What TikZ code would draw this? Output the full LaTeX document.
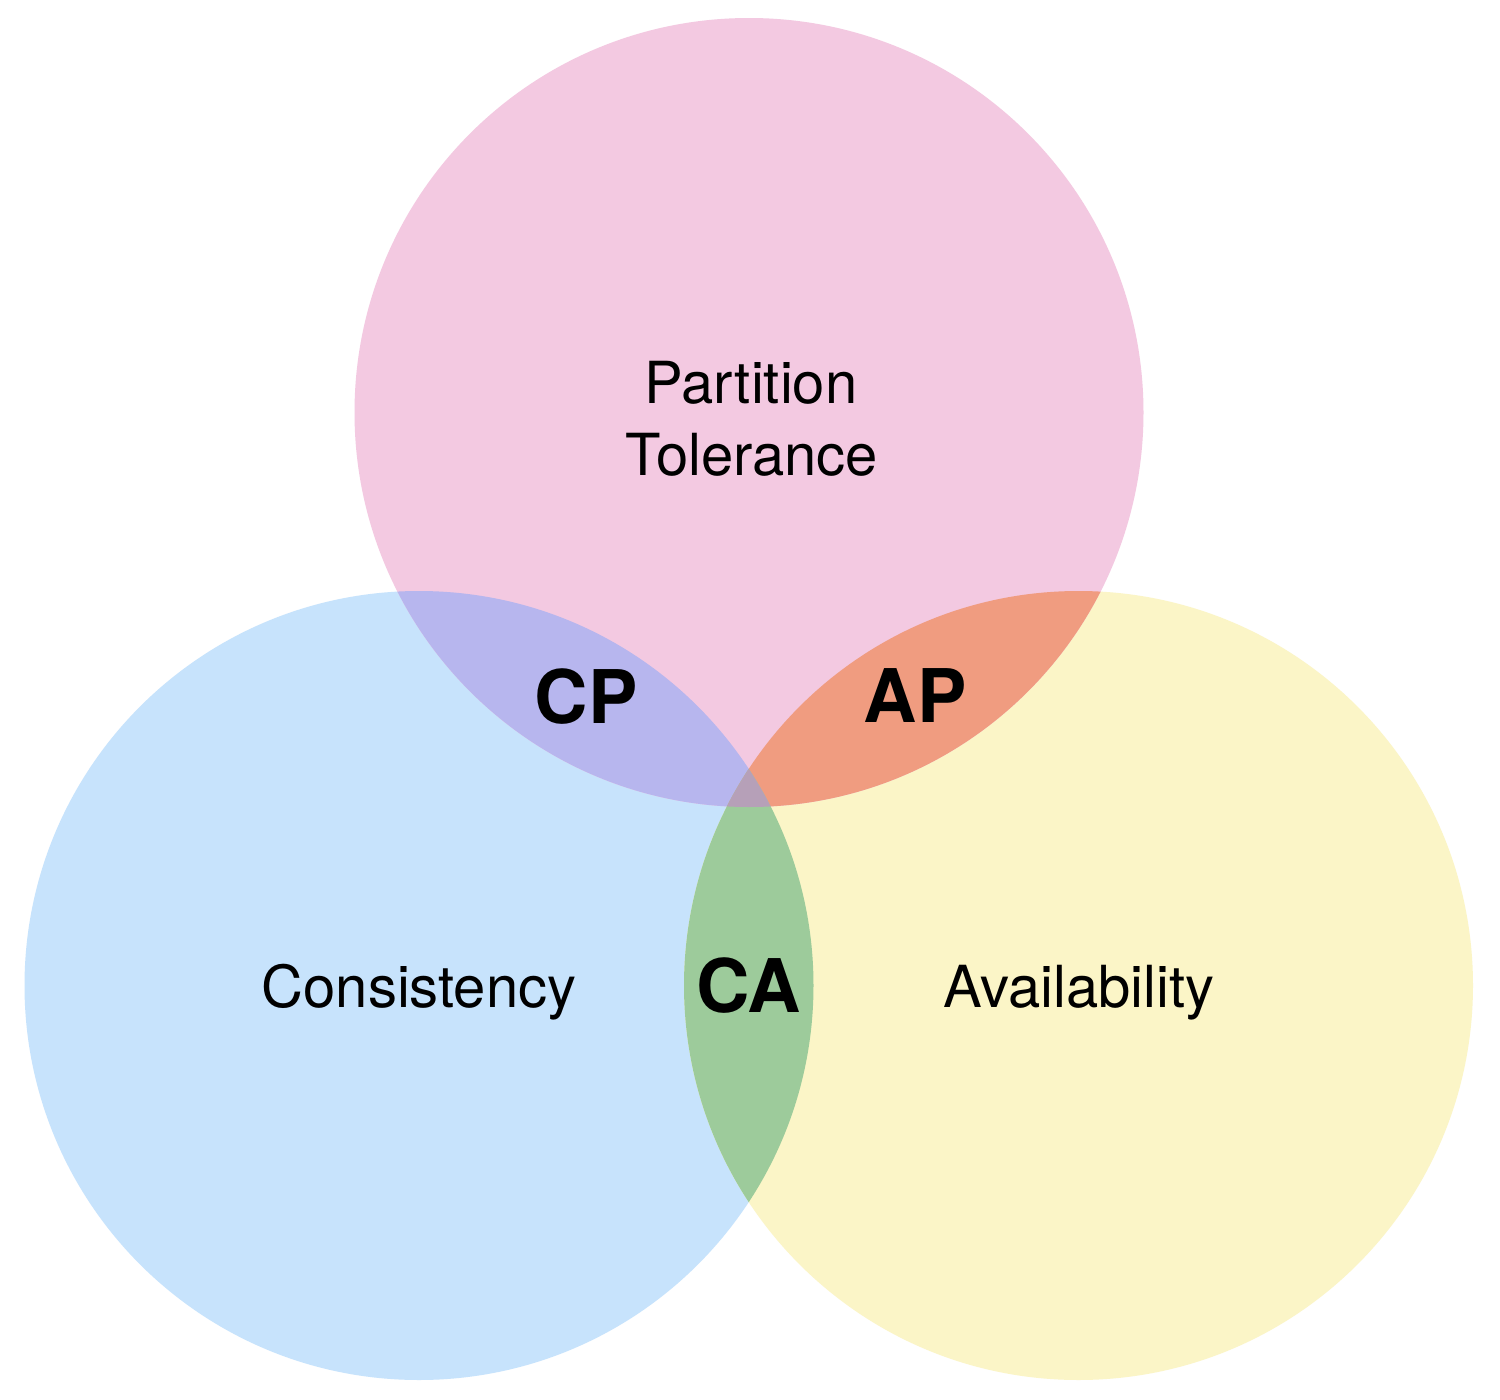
\documentclass[tikz,border=0pt]{standalone}
\usepackage{fontspec}
\setmainfont{TeX Gyre Heros}
\definecolor{cpink}{HTML}{F3C9E1}
\definecolor{cblue}{HTML}{C7E3FC}
\definecolor{cyellow}{HTML}{FBF5C7}
\definecolor{cpurple}{HTML}{B7B6EE}
\definecolor{corange}{HTML}{F09C80}
\definecolor{cgreen}{HTML}{9DCB9B}
\definecolor{ctriple}{HTML}{B6A0B8}
\begin{document}
\begin{tikzpicture}[x=1pt,y=-1pt,
  lbl/.style={anchor=base,inner sep=0pt,font=\fontsize{58}{68}\selectfont},
  blbl/.style={anchor=base,inner sep=0pt,font=\fontsize{74}{90}\selectfont\bfseries}]
\useasboundingbox (0,0) rectangle (1500,1400);
\fill[white] (0,0) rectangle (1500,1400);
\def\rr{394.5}
\coordinate (cT) at (749,412.5);
\coordinate (cL) at (419,985.5);
\coordinate (cR) at (1078.5,985.5);
\fill[cblue] (cL) circle (\rr);
\fill[cyellow] (cR) circle (\rr);
\fill[cpink] (cT) circle (\rr);
\begin{scope}
  \clip (cT) circle (\rr);
  \fill[cpurple] (cL) circle (\rr);
\end{scope}
\begin{scope}
  \clip (cT) circle (\rr);
  \fill[corange] (cR) circle (\rr);
\end{scope}
\begin{scope}
  \clip (cL) circle (\rr);
  \fill[cgreen] (cR) circle (\rr);
\end{scope}
\begin{scope}
  \clip (cT) circle (\rr);
  \clip (cL) circle (\rr);
  \fill[ctriple] (cR) circle (\rr);
\end{scope}
\node[lbl] (pt1) at (751,403) {Partition};
\node[lbl] (pt2) at (752,475) {Tolerance};
\node[lbl] (cons) at (419,1007) {Consistency};
\node[lbl] (avail) at (1079,1007) {Availability};
\node[blbl] (cp) at (586,723) {CP};
\node[blbl] (ap) at (915,722) {AP};
\node[blbl] (ca) at (749,1012) {CA};
\end{tikzpicture}
\end{document}
